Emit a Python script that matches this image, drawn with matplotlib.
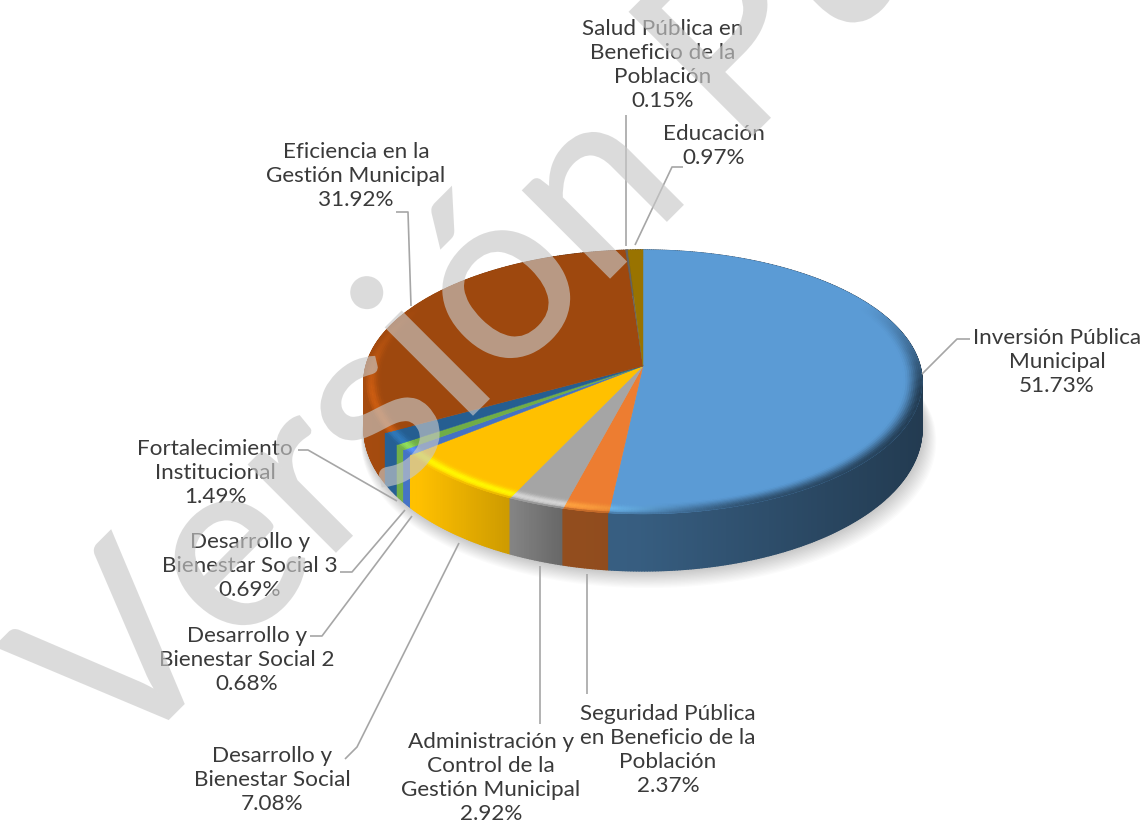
import numpy as np
import matplotlib
matplotlib.use("Agg")
import matplotlib.pyplot as plt
import matplotlib.patheffects as pe
from matplotlib.collections import PolyCollection
from matplotlib.colors import to_rgb
from matplotlib.patches import Polygon

categories = ["Inversión Pública\nMunicipal", "Seguridad Pública\nen Beneficio de la\nPoblación",
              "Administración y\nControl de la\nGestión Municipal", "Desarrollo y\nBienestar Social",
              "Desarrollo y\nBienestar Social 2", "Desarrollo y\nBienestar Social 3",
              "Fortalecimiento\nInstitucional", "Eficiencia en la\nGestión Municipal",
              "Salud Pública en\nBeneficio de la\nPoblación", "Educación"]
values = [51.73, 2.37, 2.92, 7.08, 0.68, 0.69, 1.49, 31.92, 0.15, 0.97]
colors = ["#5b9bd5", "#ed7d31", "#a5a5a5", "#ffc000", "#4472c4", "#70ad47",
          "#255e91", "#9e480e", "#636363", "#997300"]
watermark = "Versión Pública"

label_xy = [(1057, 362), (668, 750), (491, 778), (272, 780), (247, 660), (250, 566),
            (215, 473), (356, 176), (663, 65), (714, 146)]
leaders = [[(922, 375), (957, 340), (970, 340)],
           [(587, 575), (587, 695)],
           [(540, 567), (540, 725)],
           [(459, 544), (357, 748), (345, 760)],
           [(412, 517), (322, 637), (310, 637)],
           [(405, 511), (352, 573), (340, 573)],
           [(397, 502), (308, 451), (298, 451)],
           [(411, 307), (408, 213), (396, 213)],
           [(626, 247), (626, 116)],
           [(635, 246), (672, 168), (683, 168)]]

CX, CY, R, S, P = 643.0, 367.0, 277.0, 130.0, 0.121


def project(theta, r=1.0):
    X, Y = r * np.sin(theta), -r * np.cos(theta)
    w = 1 - P * Y
    return CX + R * X / w, CY + S * Y / w


def depth(theta):
    return 45 + 12 * np.clip(-np.cos(theta), 0, 1)


def side_factor(x):
    return np.interp(x, [363, 420, 512, 565, 640, 921], [1.05, 1.0, 0.8, 0.62, 0.6, 0.38])


def smooth(a, b, x):
    t = np.clip((x - a) / (b - a), 0, 1)
    return t * t * (3 - 2 * t)


def fade(img, dpi):
    out = img.copy()
    out[..., 3] = out[..., 3] * 0.64
    return out, 0, 0


fig = plt.figure(figsize=(11.45, 8.29), dpi=100)
ax = fig.add_axes([0, 0, 1, 1])
ax.set_xlim(0, 1145)
ax.set_ylim(829, 0)
ax.axis("off")

# soft shadow under the disc
th_all = np.linspace(0, 2 * np.pi, 361)
xs, ys = project(th_all)
ys = ys + depth(th_all)
mx, my = xs.mean(), ys.mean()
for k in range(14, 0, -1):
    sc = 1 + 0.0022 * k
    ax.fill(mx + (xs - mx) * sc + 0.4 * k, my + (ys - my) * sc + 0.9 * k,
            color="black", alpha=0.016, lw=0, zorder=1)

edges = np.radians(np.cumsum([0] + values) / sum(values) * 360)

side_polys, side_cols, side_keys = [], [], []
bevel_polys, bevel_cols = [], []
rings = np.linspace(0, 1, 15)
for i, col in enumerate(colors):
    base = np.array(to_rgb(col))
    bright = np.clip(base * 1.3, 0, 1)
    n = max(3, int(np.degrees(edges[i + 1] - edges[i]) * 2))
    th = np.linspace(edges[i], edges[i + 1], n + 1)
    for a, b in zip(th[:-1], th[1:]):
        xa, ya = project(a)
        xb, yb = project(b)
        m = (a + b) / 2
        xm, _ = project(m)
        f = side_factor(xm)
        side = np.clip(base * f, 0, 1)
        side_polys.append([(xa, ya), (xb, yb), (xb, yb + depth(b)), (xa, ya + depth(a))])
        side_cols.append(side)
        side_keys.append(-np.cos(m))
        Ym = -np.cos(m)
        vis = np.clip((Ym + 0.5) / 0.7, 0, 1)
        hl = smooth(720, 560, xm) * vis
        dark = smooth(560, 760, xm) * vis
        for t0, t1 in zip(rings[:-1], rings[1:]):
            tm = (t0 + t1) / 2
            r0, r1 = 0.9 + 0.1 * t0, 0.9 + 0.1 * t1
            p = [project(a, r0), project(b, r0), project(b, r1), project(a, r1)]
            c = base + hl * np.exp(-((tm - 0.75) / 0.2) ** 2) * (bright - base)
            s = dark * smooth(0.35, 1.0, tm) + hl * smooth(0.88, 1.0, tm) * 0.6
            c = c * (1 - s) + side * s
            bevel_polys.append(p)
            bevel_cols.append(np.clip(c, 0, 1))

order = np.argsort(side_keys)
ax.add_collection(PolyCollection([side_polys[k] for k in order],
                                 facecolors=[side_cols[k] for k in order],
                                 edgecolors=[side_cols[k] for k in order], linewidths=1.0, zorder=2))

for i, col in enumerate(colors):
    th = np.linspace(edges[i], edges[i + 1], 200)
    x, y = project(th)
    ax.add_patch(Polygon(np.column_stack([np.r_[CX, x], np.r_[CY, y]]), closed=True,
                         facecolor=col, edgecolor=col, lw=0.3, zorder=3))
ax.add_collection(PolyCollection(bevel_polys, facecolors=bevel_cols, edgecolors=bevel_cols,
                                 linewidths=0.3, zorder=4))

for path in leaders:
    px, py = zip(*path)
    ax.plot(px, py, color="#a6a6a6", lw=1.2, zorder=5, solid_capstyle="butt")

for name, v, (lx, ly) in zip(categories, values, label_xy):
    ax.text(lx, ly, f"{name}\n{v:.2f}%", ha="center", va="center", multialignment="center",
            family="Lato", fontsize=16.2, linespacing=1.24, color="#3a3a3a", zorder=6)

wm = ax.text(118, 770, watermark, rotation=45, rotation_mode="anchor", ha="left", va="baseline",
             family="Lato", fontsize=174, color="#c8c8c8", zorder=7, clip_on=True)
wm.set_path_effects([pe.Stroke(linewidth=1.8, foreground="#c8c8c8", joinstyle="miter")])
wm.set_agg_filter(fade)

fig.savefig("out.png", dpi=100, facecolor="white")
